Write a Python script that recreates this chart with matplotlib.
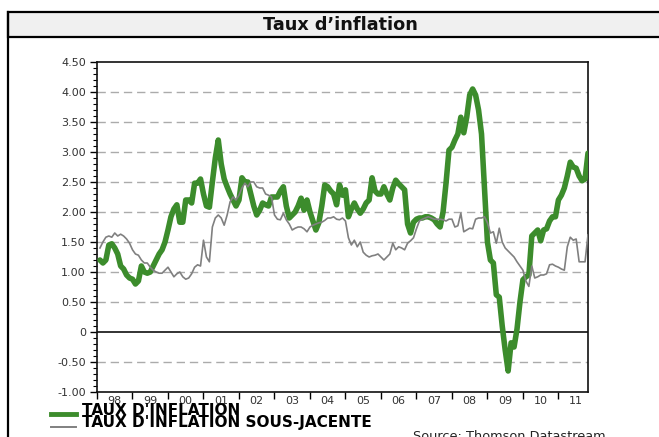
import numpy as np
import matplotlib.pyplot as plt
from matplotlib.lines import Line2D
from matplotlib.patches import Rectangle
from matplotlib.ticker import FixedLocator, FixedFormatter, MultipleLocator, NullFormatter

# ---- DONNEES : glissement annuel mensuel, janv. 1998 -> oct. 2011 ----
start_year = 1998

inflation = [
    1.20, 1.15, 1.20, 1.45, 1.47, 1.40, 1.30, 1.10, 1.05, 0.95, 0.90, 0.88,  # 1998
    0.80, 0.85, 1.10, 1.00, 0.98, 1.00, 1.10, 1.20, 1.30, 1.37, 1.50, 1.70,  # 1999
    1.92, 2.05, 2.12, 1.83, 1.83, 2.20, 2.20, 2.15, 2.48, 2.48, 2.55, 2.30,  # 2000
    2.10, 2.08, 2.50, 2.90, 3.20, 2.80, 2.55, 2.42, 2.30, 2.20, 2.10, 2.20,  # 2001
    2.57, 2.50, 2.50, 2.30, 2.10, 1.95, 2.03, 2.15, 2.12, 2.10, 2.25, 2.25,  # 2002
    2.25, 2.35, 2.42, 2.10, 1.90, 1.95, 2.00, 2.10, 2.23, 2.03, 2.20, 2.00,  # 2003
    1.85, 1.70, 1.82, 2.10, 2.45, 2.42, 2.35, 2.30, 2.12, 2.45, 2.28, 2.37,  # 2004
    1.92, 2.05, 2.15, 2.05, 1.98, 2.05, 2.15, 2.20, 2.57, 2.35, 2.30, 2.30,  # 2005
    2.42, 2.30, 2.20, 2.40, 2.53, 2.47, 2.42, 2.37, 1.80, 1.65, 1.83, 1.88,  # 2006
    1.90, 1.90, 1.92, 1.92, 1.90, 1.87, 1.80, 1.75, 2.00, 2.48, 3.03, 3.08,  # 2007
    3.20, 3.30, 3.58, 3.32, 3.58, 3.95, 4.05, 3.95, 3.70, 3.30, 2.40, 1.50,  # 2008
    1.20, 1.15, 0.62, 0.58, 0.10, -0.30, -0.65, -0.18, -0.25, 0.05, 0.50, 0.87,  # 2009
    0.92, 0.95, 1.60, 1.65, 1.70, 1.52, 1.70, 1.72, 1.85, 1.92, 1.92, 2.20,  # 2010
    2.28, 2.40, 2.60, 2.83, 2.75, 2.73, 2.60, 2.52, 2.55, 2.98,  # 2011
]

sous_jacente = [
    1.40, 1.50, 1.58, 1.60, 1.58, 1.65, 1.60, 1.63, 1.60, 1.55, 1.48, 1.37,  # 1998
    1.30, 1.28, 1.20, 1.15, 1.15, 1.08, 1.03, 1.00, 0.98, 0.98, 1.03, 1.08,  # 1999
    1.00, 0.92, 0.97, 1.00, 0.92, 0.88, 0.90, 0.97, 1.08, 1.12, 1.10, 1.53,  # 2000
    1.25, 1.17, 1.75, 1.90, 1.95, 1.90, 1.78, 1.95, 2.17, 2.25, 2.20, 2.28,  # 2001
    2.40, 2.48, 2.42, 2.50, 2.50, 2.42, 2.40, 2.40, 2.30, 2.28, 2.25, 1.95,  # 2002
    1.88, 1.87, 1.98, 1.87, 1.80, 1.70, 1.73, 1.75, 1.75, 1.72, 1.67, 1.75,  # 2003
    1.78, 1.80, 1.82, 1.83, 1.86, 1.90, 1.90, 1.92, 1.88, 1.87, 1.90, 1.85,  # 2004
    1.57, 1.45, 1.53, 1.42, 1.50, 1.33, 1.28, 1.25, 1.27, 1.28, 1.30, 1.25,  # 2005
    1.20, 1.25, 1.30, 1.48, 1.37, 1.42, 1.40, 1.37, 1.48, 1.52, 1.57, 1.72,  # 2006
    1.85, 1.88, 1.90, 1.92, 1.90, 1.88, 1.88, 1.88, 1.87, 1.85, 1.88, 1.88,  # 2007
    1.75, 1.77, 1.98, 1.67, 1.70, 1.73, 1.72, 1.88, 1.90, 1.90, 1.92, 1.82,  # 2008
    1.65, 1.67, 1.48, 1.73, 1.50, 1.40, 1.35, 1.30, 1.25, 1.17, 1.10, 1.03,  # 2009
    0.85, 0.76, 1.10, 0.90, 0.92, 0.95, 0.95, 0.97, 1.12, 1.13, 1.10, 1.08,  # 2010
    1.05, 1.03, 1.42, 1.58, 1.53, 1.55, 1.17, 1.17, 1.17, 1.62,  # 2011
]

year_labels = ["98", "99", "00", "01", "02", "03", "04", "05", "06", "07", "08", "09", "10", "11"]
y_ticks = [-1.0, -0.5, 0.0, 0.5, 1.0, 1.5, 2.0, 2.5, 3.0, 3.5, 4.0, 4.5]
y_labels = ["-1.00", "-0.50", "0", "0.50", "1.00", "1.50", "2.00", "2.50", "3.00", "3.50", "4.00", "4.50"]

title = "Taux d\u2019inflation"
label_infl = "TAUX D'INFLATION"
label_sj = "TAUX D'INFLATION SOUS-JACENTE"
source = "Source: Thomson Datastream"

GREEN = "#3c8c2c"
GREY = "#808080"

# date en fin de mois
t = start_year + (np.arange(len(inflation)) + 1) / 12.0

plt.rcParams["font.family"] = ["DejaVu Sans"]

W, H = 659, 437
fig = plt.figure(figsize=(W / 100, H / 100), dpi=100)


def fx(x):
    return x / W


def fy(y):
    return 1 - y / H


# ---- cadre + bandeau titre ----
fig.add_artist(Rectangle((fx(8), fy(37)), fx(W + 5) - fx(8), fy(12) - fy(37),
                         facecolor="#f0f0f0", edgecolor="black", lw=1.6,
                         transform=fig.transFigure))
fig.add_artist(Line2D([fx(8), fx(8)], [fy(H + 5), fy(12)], color="black", lw=1.6,
                      transform=fig.transFigure))
fig.text(fx(340), fy(24.5), title, ha="center", va="center",
         fontsize=12.7, fontweight="bold", color="#111111")

# ---- graphique ----
ax = fig.add_axes([fx(97), fy(392), fx(588) - fx(97), fy(62) - fy(392)])

for v in y_ticks:
    if v == 0 or v == 4.5:
        continue
    ax.axhline(v, color="#ababab", lw=1.0, ls=(0, (6, 3.5)), zorder=1)
ax.axhline(0, color="#222222", lw=1.3, zorder=2)

ax.plot(t, inflation, color=GREEN, lw=4.0, solid_joinstyle="round",
        solid_capstyle="round", zorder=3)
ax.plot(t, sous_jacente, color=GREY, lw=1.2, zorder=4)

ax.set_xlim(start_year, t[-1])
ax.set_ylim(-1.0, 4.5)

ax.yaxis.set_major_locator(FixedLocator(y_ticks))
ax.yaxis.set_major_formatter(FixedFormatter(y_labels))
ax.yaxis.set_minor_locator(MultipleLocator(0.1))
ax.tick_params(axis="y", which="major", direction="out", length=5, width=1,
               pad=3, labelsize=8, labelcolor="#333333")
ax.tick_params(axis="y", which="minor", direction="out", length=3, width=0.8)

years = np.arange(start_year, start_year + len(year_labels))
ax.xaxis.set_major_locator(FixedLocator(years))
ax.xaxis.set_major_formatter(NullFormatter())
ax.xaxis.set_minor_locator(FixedLocator(years + 0.5))
ax.xaxis.set_minor_formatter(FixedFormatter(year_labels))
ax.tick_params(axis="x", which="major", direction="out", length=5, width=1)
ax.tick_params(axis="x", which="minor", length=0, pad=3, labelsize=8,
               labelcolor="#333333")

for s in ax.spines.values():
    s.set_linewidth(1.2)
    s.set_color("#111111")

# ---- legende ----
fig.add_artist(Line2D([fx(51), fx(76)], [fy(414), fy(414)], color=GREEN, lw=3.5,
                      transform=fig.transFigure))
fig.add_artist(Line2D([fx(51), fx(76)], [fy(427), fy(427)], color=GREY, lw=1.4,
                      transform=fig.transFigure))
fig.text(fx(82), fy(415), label_infl, ha="left", va="baseline",
         fontsize=11, fontweight="bold", color="black")
fig.text(fx(82), fy(426.5), label_sj, ha="left", va="baseline",
         fontsize=11, fontweight="bold", color="black")

fig.text(fx(413), fy(430), source, ha="left", va="top", fontsize=9.3, color="#222222")

fig.savefig("out.png", dpi=100)
